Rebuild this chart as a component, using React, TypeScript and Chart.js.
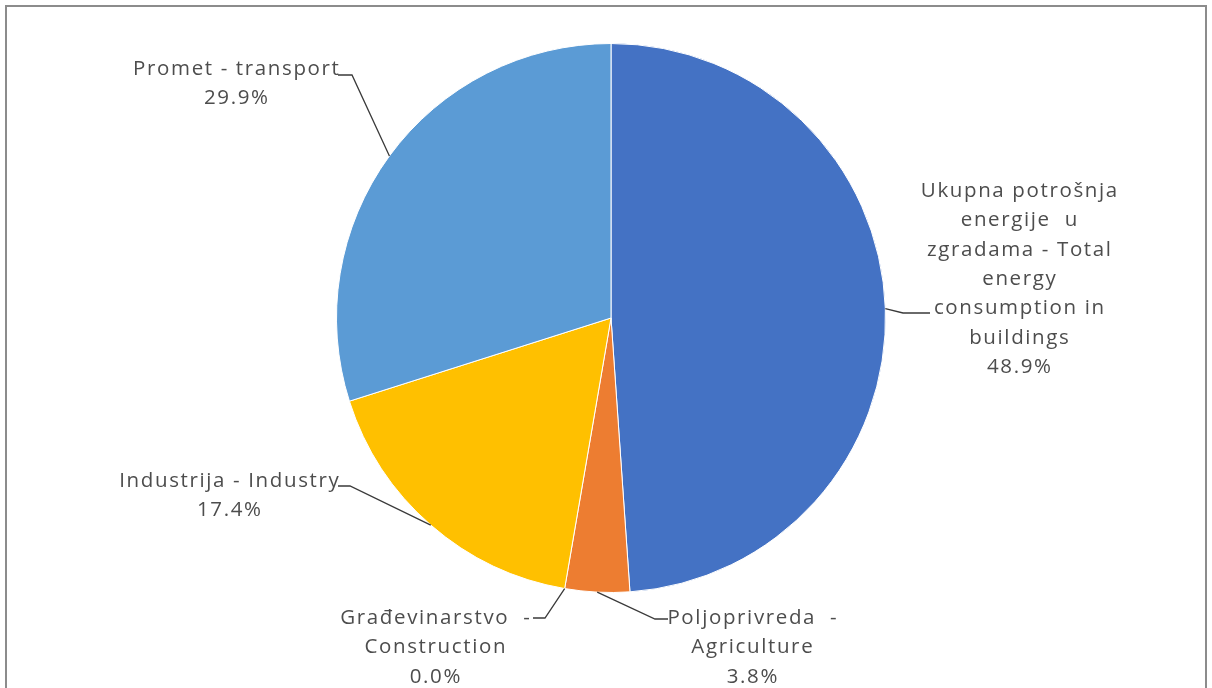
import React, { useEffect, useRef } from "react";
import { Chart, registerables } from "chart.js";

Chart.register(...registerables);

const categories = [
  "Ukupna potrošnja energije u zgradama - Total energy consumption in buildings",
  "Poljoprivreda - Agriculture",
  "Građevinarstvo - Construction",
  "Industrija - Industry",
  "Promet - transport",
];
const shares = [48.9, 3.8, 0.0, 17.4, 29.9];
const labelTextLines = [
  ["Ukupna potrošnja", "energije  u", "zgradama - Total", "energy", "consumption in", "buildings"],
  ["Poljoprivreda  -", "Agriculture"],
  ["Građevinarstvo  -", "Construction"],
  ["Industrija - Industry"],
  ["Promet - transport"],
];
const sliceColors = ["#4472C4", "#ED7D31", "#A5A5A5", "#FFC000", "#5B9BD5"];

// layout of the data labels (text centre x, first line y) and leader elbows
const labelLayout = [
  { cx: 1019, y0: 191, elbow: [903, 313], end: [930, 313] },
  { cx: 752, y0: 618, elbow: [655, 619], end: [668, 619] },
  { cx: 435, y0: 618, elbow: [545, 618], end: [533, 618] },
  { cx: 229, y0: 481, elbow: [350, 486], end: [338, 486] },
  { cx: 236, y0: 69, elbow: [352, 75], end: [338, 75] },
];
const LINE_H = 29.4;

const labelPlugin = {
  id: "excelLabels",
  afterDatasetsDraw(chart: any) {
    const ctx = chart.ctx;
    const meta = chart.getDatasetMeta(0);
    ctx.save();
    // leader lines
    ctx.strokeStyle = "#3a3a3a";
    ctx.lineWidth = 1.3;
    meta.data.forEach((arc: any, i: number) => {
      const p = arc.getProps(["x", "y", "startAngle", "endAngle", "outerRadius"], true);
      const mid = (p.startAngle + p.endAngle) / 2;
      const ex = p.x + Math.cos(mid) * p.outerRadius;
      const ey = p.y + Math.sin(mid) * p.outerRadius;
      const L = labelLayout[i];
      ctx.beginPath();
      ctx.moveTo(ex, ey);
      ctx.lineTo(L.elbow[0], L.elbow[1]);
      ctx.lineTo(L.end[0], L.end[1]);
      ctx.stroke();
    });
    // texts
    ctx.fillStyle = "#4d4d4d";
    ctx.textAlign = "center";
    ctx.textBaseline = "middle";
    ctx.font = "20.5px 'Open Sans'";
    const base = ctx.measureText("Ukupna potrošnja").width;
    const spacing = Math.max(0, (198 - base) / 16);
    (ctx as any).letterSpacing = spacing.toFixed(2) + "px";
    labelTextLines.forEach((lines, i) => {
      const L = labelLayout[i];
      const all = [...lines, shares[i].toFixed(1) + "%"];
      all.forEach((t, j) => {
        ctx.fillText(t, L.cx + spacing / 2, L.y0 + j * LINE_H);
      });
    });
    (ctx as any).letterSpacing = "0px";
    // outer frame
    ctx.strokeStyle = "#8c8c8c";
    ctx.lineWidth = 2;
    ctx.beginPath();
    ctx.moveTo(6, 700);
    ctx.lineTo(6, 6);
    ctx.lineTo(1206, 6);
    ctx.lineTo(1206, 700);
    ctx.stroke();
    ctx.restore();
  },
};

export default function App() {
  const ref = useRef<HTMLCanvasElement>(null);
  useEffect(() => {
    if (!ref.current) return;
    const chart = new Chart(ref.current, {
      type: "pie",
      data: {
        labels: categories,
        datasets: [
          {
            data: shares,
            backgroundColor: sliceColors,
            borderColor: "#ffffff",
            borderWidth: 1,
          },
        ],
      },
      options: {
        responsive: false,
        animation: false,
        devicePixelRatio: 1,
        layout: { padding: { left: 10, right: 0, top: 43, bottom: 95 } },
        plugins: {
          legend: { display: false },
          tooltip: { enabled: false },
        },
      },
      plugins: [labelPlugin],
    });
    return () => chart.destroy();
  }, []);
  return (
    <div style={{ position: "absolute", left: 0, top: 0, width: 1212, height: 688, background: "#fff" }}>
      <canvas ref={ref} width={1212} height={688} />
    </div>
  );
}
